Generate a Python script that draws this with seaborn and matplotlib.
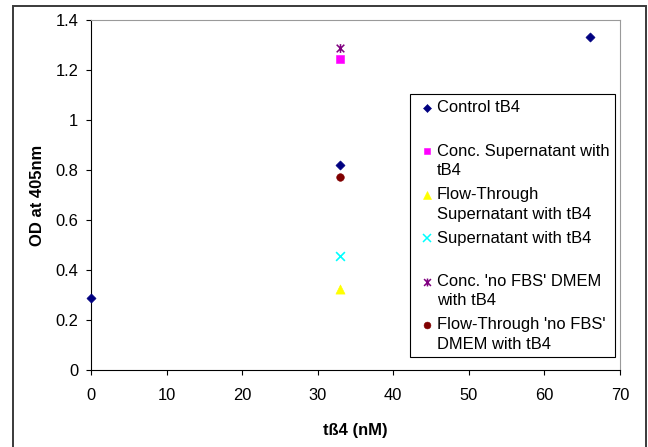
import matplotlib
matplotlib.use("Agg")
import matplotlib.pyplot as plt
from matplotlib.path import Path
from matplotlib.patches import Rectangle
from matplotlib.lines import Line2D
import pandas as pd
import seaborn as sns

# Thymosin beta-4 concentration (nM) against absorbance at 405 nm
control_conc = [0, 33, 66]
control_od = [0.29, 0.82, 1.33]

sample_names = [
    "Conc. Supernatant with tB4",
    "Flow-Through Supernatant with tB4",
    "Supernatant with tB4",
    "Conc. 'no FBS' DMEM with tB4",
    "Flow-Through 'no FBS' DMEM with tB4",
]
sample_conc = [33, 33, 33, 33, 33]
sample_od = [1.243, 0.325, 0.457, 1.287, 0.77]

series_order = ["Control tB4"] + sample_names
legend_labels = [
    "Control tB4",
    "Conc. Supernatant with\ntB4",
    "Flow-Through\nSupernatant with tB4",
    "Supernatant with tB4",
    "Conc. 'no FBS' DMEM\nwith tB4",
    "Flow-Through 'no FBS'\nDMEM with tB4",
]

x_ticks = [0, 10, 20, 30, 40, 50, 60, 70]
y_ticks = [0, 0.2, 0.4, 0.6, 0.8, 1.0, 1.2, 1.4]

df = pd.DataFrame({
    "series": ["Control tB4"] * len(control_conc) + sample_names,
    "conc": control_conc + sample_conc,
    "od": control_od + sample_od,
})

# Excel-style "star" marker: an X crossed by a vertical bar
star = Path(
    [(-1, -1), (1, 1), (-1, 1), (1, -1), (0, -1.15), (0, 1.15)],
    [Path.MOVETO, Path.LINETO] * 3,
)

styles = {
    "Control tB4": dict(marker="D", color="#000080", s=22, filled=True),
    "Conc. Supernatant with tB4": dict(marker="s", color="#FF00FF", s=30, filled=True),
    "Flow-Through Supernatant with tB4": dict(marker="^", color="#FFFF00", s=44, filled=True),
    "Supernatant with tB4": dict(marker="x", color="#00FFFF", s=40, filled=False),
    "Conc. 'no FBS' DMEM with tB4": dict(marker=star, color="#800080", s=40, filled=False),
    "Flow-Through 'no FBS' DMEM with tB4": dict(marker="o", color="#800000", s=30, filled=True),
}

sns.set_theme(style="white")
plt.rcParams["font.family"] = ["Liberation Sans", "DejaVu Sans"]
FS = 11.9

W, H = 648, 447
fig = plt.figure(figsize=(W / 100, H / 100), dpi=100)
fig.patch.set_facecolor("white")
ax = fig.add_axes([91 / W, 1 - 370 / H, (620 - 91) / W, (370 - 20) / H])


def marker_kws(name):
    st = styles[name]
    kws = dict(marker=st["marker"], color=st["color"], s=st["s"])
    if st["marker"] == "x":
        kws.update(linewidth=1.2)
    else:
        kws.update(edgecolor=st["color"], linewidth=1.1 if not st["filled"] else 0.4)
    return kws


for name in series_order:
    sub = df[df["series"] == name]
    sns.scatterplot(data=sub, x="conc", y="od", ax=ax, legend=False,
                    zorder=3, clip_on=False, **marker_kws(name))

ax.set_xlim(0, 70)
ax.set_ylim(0, 1.4)
ax.set_xticks(x_ticks)
ax.set_yticks(y_ticks)
ax.set_xticklabels([f"{v:g}" for v in x_ticks])
ax.set_yticklabels([f"{v:g}" for v in y_ticks])
ax.tick_params(axis="both", direction="out", length=3.6, width=0.8,
               color="black", labelsize=FS, labelcolor="black")
ax.tick_params(axis="x", pad=9.5, bottom=True)
ax.tick_params(axis="y", pad=5.5, left=True)

for side in ("left", "bottom"):
    ax.spines[side].set_color("black")
    ax.spines[side].set_linewidth(0.8)
for side in ("top", "right"):
    ax.spines[side].set_color("#9a9a9a")
    ax.spines[side].set_linewidth(0.8)

ax.set_xlabel("tß4 (nM)", fontsize=FS, fontweight="bold", color="black")
ax.set_ylabel("OD at 405nm", fontsize=FS, fontweight="bold", color="black")
ax.xaxis.label.set_verticalalignment("center")
ax.yaxis.label.set_verticalalignment("center")
ax.xaxis.set_label_coords(0.5, (370 - 430) / 350)
ax.yaxis.set_label_coords((37 - 91) / 529, 0.5)


def fx(px):
    return px / W


def fy(py):
    return 1 - py / H


# Legend panel
fig.add_artist(Rectangle((fx(410), fy(357)), fx(615) - fx(410), fy(94) - fy(357),
                         transform=fig.transFigure, facecolor="white",
                         edgecolor="black", linewidth=0.8, zorder=5))
entry_top, entry_pitch, line_pitch = 108, 43.4, 19.3
for i, (name, label) in enumerate(zip(series_order, legend_labels)):
    st = styles[name]
    y0 = entry_top + i * entry_pitch
    ms = st["s"] ** 0.5 * 0.9
    fig.add_artist(Line2D([fx(427)], [fy(y0)], transform=fig.transFigure,
                          marker=st["marker"], markersize=ms, linestyle="none",
                          color=st["color"], markeredgecolor=st["color"],
                          markeredgewidth=1.1 if not st["filled"] else 0.4,
                          zorder=6))
    for j, line in enumerate(label.split("\n")):
        fig.text(fx(437), fy(y0 + j * line_pitch), line, ha="left", va="center",
                 fontsize=FS, color="black", zorder=6)

# Chart frame
fig.add_artist(Rectangle((fx(13), -0.02), fx(646) - fx(13), fy(6) + 0.02,
                         transform=fig.transFigure, fill=False,
                         edgecolor="#3a3a3a", linewidth=1.4, zorder=7))

fig.savefig("out.png", dpi=100)
